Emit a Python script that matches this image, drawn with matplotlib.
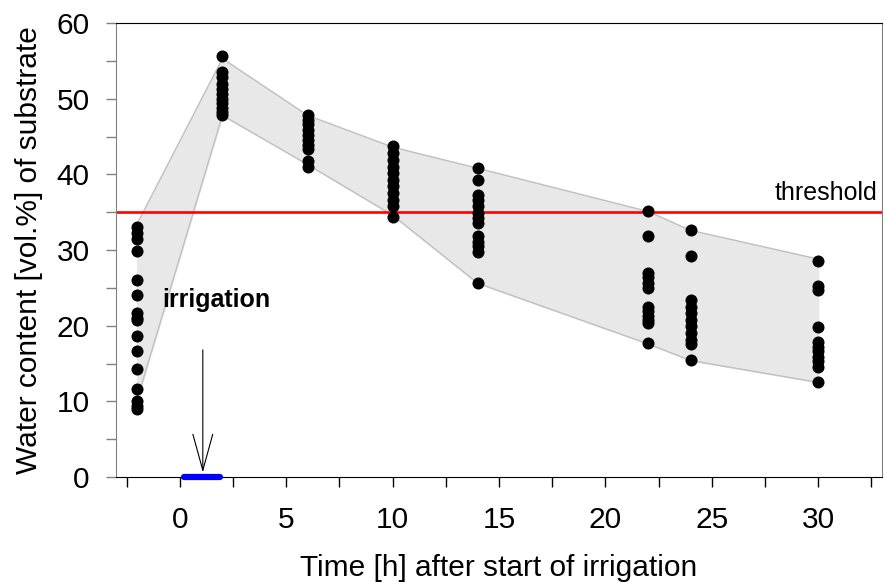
# Water content of substrate before and after irrigation

import matplotlib.pyplot as plt

plt.rcParams['font.family'] = ['Liberation Sans', 'DejaVu Sans']

# Sampling times [h]
times = [-2, 2, 6, 10, 14, 22, 24, 30]

# Measured water content [vol.%] at each time
wc_m2 = [33.1, 32.2, 31.4, 29.9, 26.0, 24.0, 21.7, 21.0, 20.8, 18.6, 16.7, 14.3, 11.6, 10.0, 9.4, 9.0]
wc_2 = [55.7, 53.5, 52.8, 52.0, 51.3, 50.6, 50.0, 49.4, 48.8, 48.2, 47.9]
wc_6 = [47.9, 47.2, 46.6, 45.9, 45.2, 44.6, 43.9, 43.3, 41.7, 41.0]
wc_10 = [43.7, 42.8, 41.9, 41.0, 40.2, 39.3, 38.4, 37.5, 36.6, 35.8, 34.4]
wc_14 = [40.8, 39.2, 37.3, 36.6, 35.8, 34.9, 34.2, 33.6, 31.8, 31.1, 30.5, 29.8, 25.6]
wc_22 = [35.1, 31.9, 26.9, 26.4, 25.7, 25.0, 22.5, 22.0, 21.3, 20.7, 20.3, 17.7]
wc_24 = [32.6, 29.2, 23.4, 22.5, 21.7, 20.8, 19.9, 19.0, 18.1, 17.6, 15.4]
wc_30 = [28.6, 25.2, 24.7, 19.8, 17.9, 17.2, 16.6, 15.9, 15.3, 14.6, 12.5]

# Grey band limits
band_upper = [33.5, 55.3, 47.8, 43.6, 40.8, 35.1, 32.6, 28.8]
band_lower = [10.3, 47.8, 41.3, 34.6, 25.6, 17.6, 15.4, 12.5]

threshold = 35
irrigation_start = 0.2
irrigation_end = 1.9

fig = plt.figure(figsize=(8.84, 5.82), dpi=100)
ax = fig.add_axes([116 / 884, 105 / 582, 766 / 884, 454 / 582])

# Band between lower and upper limit
ax.fill_between(times, band_lower, band_upper, color='#e8e8e8', zorder=1)
ax.plot(times, band_upper, color='#c0c0c0', lw=1, zorder=1)
ax.plot(times, band_lower, color='#c0c0c0', lw=1, zorder=1)

# Measurement points
all_values = [wc_m2, wc_2, wc_6, wc_10, wc_14, wc_22, wc_24, wc_30]
for t, vals in zip(times, all_values):
    ax.scatter([t] * len(vals), vals, s=75, color='black', zorder=3, linewidths=0)

# Threshold line
ax.axhline(threshold, color='red', lw=1.9, zorder=2)
ax.text(32.8, threshold + 0.9, 'threshold', ha='right', va='bottom', fontsize=18)

# Irrigation period and arrow
ax.plot([irrigation_start, irrigation_end], [0, 0], color='blue', lw=4.5,
        solid_capstyle='round', clip_on=False, zorder=4)
ax.annotate('', xy=(1.08, 0.6), xytext=(1.08, 16.8),
            arrowprops=dict(arrowstyle='->, head_length=2.0, head_width=0.55',
                            color='black', lw=0.8, mutation_scale=13,
                            shrinkA=0, shrinkB=0))
ax.text(1.72, 23.4, 'irrigation', ha='center', va='center', fontsize=18, fontweight='bold')

# Axes
ax.set_xlim(-3, 33)
ax.set_ylim(0, 60)
ax.set_xticks([0, 5, 10, 15, 20, 25, 30])
ax.set_xticks([-2.5, 2.5, 7.5, 12.5, 17.5, 22.5, 27.5, 32.5], minor=True)
ax.set_yticks([0, 10, 20, 30, 40, 50, 60])
ax.set_yticks([5, 15, 25, 35, 45, 55], minor=True)
ax.tick_params(which='both', direction='out', length=7, width=1, labelsize=21.5)
ax.tick_params(axis='x', which='both', pad=14)
ax.tick_params(axis='y', which='both', pad=12)

ax.spines['left'].set_color('#808080')
ax.spines['right'].set_color('#808080')
ax.spines['top'].set_color('black')
ax.spines['bottom'].set_color('black')
ax.tick_params(axis='y', which='both', colors='#808080', labelcolor='black')

# Titles/labels
ax.set_xlabel('Time [h] after start of irrigation', fontsize=21.5, labelpad=14)
ax.set_ylabel('Water content [vol.%] of substrate', fontsize=21.5, labelpad=10)

fig.savefig('out.png', dpi=100)
